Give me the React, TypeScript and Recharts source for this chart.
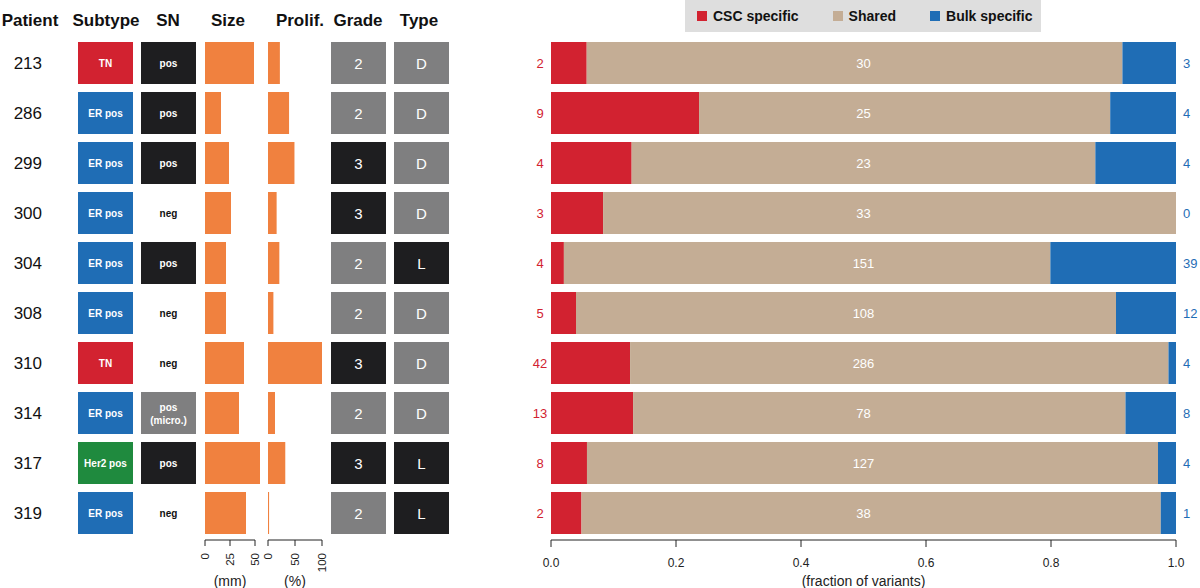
import { BarChart, Bar, XAxis, YAxis, Cell, LabelList } from "recharts";

const patients = ["213", "286", "299", "300", "304", "308", "310", "314", "317", "319"];
const subtypes = ["TN", "ER pos", "ER pos", "ER pos", "ER pos", "ER pos", "TN", "ER pos", "Her2 pos", "ER pos"];
const sentinelNode = ["pos", "pos", "pos", "neg", "pos", "neg", "neg", "pos (micro.)", "pos", "neg"];
const tumourSize = [49, 16, 24, 26, 21, 21, 39, 34, 55, 41]; // mm
const prolif = [22, 39, 49, 16, 21, 10, 100, 13, 32, 2]; // %
const grades = ["2", "2", "3", "3", "2", "2", "3", "2", "3", "2"];
const tumourType = ["D", "D", "D", "D", "L", "D", "D", "D", "L", "L"];

const cscSpecific = [2, 9, 4, 3, 4, 5, 42, 13, 8, 2];
const sharedVariants = [30, 25, 23, 33, 151, 108, 286, 78, 127, 38];
const bulkSpecific = [3, 4, 4, 0, 39, 12, 4, 8, 4, 1];

const fractionTicks = [0, 0.2, 0.4, 0.6, 0.8, 1];
const sizeTicks = [0, 25, 50];
const prolifTicks = [0, 50, 100];

const FONT = "'Liberation Sans', Arial, Helvetica, sans-serif";
const RED = "#d22230";
const TAN = "#c4ad95";
const BLUE = "#1f6db5";
const GREEN = "#1f8a3e";
const ORANGE = "#f0813f";
const BLACK = "#1e1e20";
const GREY = "#7f7f80";

const subtypeColor: Record<string, string> = { TN: RED, "ER pos": BLUE, "Her2 pos": GREEN };
const snColor: Record<string, string> = { pos: BLACK, neg: "none", "pos (micro.)": GREY };
const gradeColor: Record<string, string> = { "2": GREY, "3": BLACK };
const typeColor: Record<string, string> = { D: GREY, L: BLACK };

const rows = patients.map((p, i) => ({
  patient: p,
  cell: 1,
  size: tumourSize[i],
  prolif: prolif[i],
  csc: cscSpecific[i],
  shared: sharedVariants[i],
  bulk: bulkSpecific[i],
}));

const TOP = 38;
const H = 588;
const PLOT_L = 551;
const PLOT_R = 1176;

const rowOf = (patient: string) => patients.indexOf(patient);

const makeBoxLabel =
  (values: string[], colorOf: (v: string) => string, fontSize: number, fontWeight: string) =>
  (props: any) => {
    const vb = props.viewBox ?? props;
    const { x, y, width, height } = vb;
    const v = values[rowOf(String(props.value))];
    if (v === undefined) return null;
    const cut = v.indexOf("(");
    const lines = cut > 0 ? [v.slice(0, cut).trim(), v.slice(cut)] : [v];
    const cx = x + width / 2;
    const lh = fontSize * 1.3;
    const y0 = y + height / 2 - ((lines.length - 1) * lh) / 2;
    return (
      <text x={cx} y={y0} textAnchor="middle" dominantBaseline="central" fontSize={fontSize} fontWeight={fontWeight} fill={colorOf(v)} fontFamily={FONT}>
        {lines.map((l, i) => (
          <tspan key={i} x={cx} dy={i === 0 ? 0 : lh}>
            {l}
          </tspan>
        ))}
      </text>
    );
  };

function BoxColumn({
  left,
  width,
  values,
  colors,
  labelColor,
  fontSize,
  fontWeight,
  withPatients,
}: {
  left: number;
  width: number;
  values: string[];
  colors: Record<string, string>;
  labelColor: (v: string) => string;
  fontSize: number;
  fontWeight: string;
  withPatients?: boolean;
}) {
  const axisW = withPatients ? left : 0;
  return (
    <div style={{ position: "absolute", left: left - axisW, top: 0 }}>
      <BarChart width={width + axisW} height={H} data={rows} layout="vertical" margin={{ top: TOP, right: 0, bottom: H - 538, left: 0 }} barSize={42}>
        <XAxis type="number" domain={[0, 1]} hide />
        <YAxis
          type="category"
          dataKey="patient"
          hide={!withPatients}
          width={axisW}
          axisLine={false}
          tickLine={false}
          tickSize={0}
          tickMargin={36}
          tick={{ fontSize: 17, fill: "#111", fontFamily: FONT }}
        />
        <Bar dataKey="cell" isAnimationActive={false}>
          {values.map((v, i) => (
            <Cell key={i} fill={colors[v]} />
          ))}
          <LabelList dataKey="patient" content={makeBoxLabel(values, labelColor, fontSize, fontWeight)} />
        </Bar>
      </BarChart>
    </div>
  );
}

const RotTick = (props: any) => {
  const { x, y, payload } = props;
  return (
    <text x={x} y={y} transform={`rotate(-90, ${x}, ${y})`} textAnchor="end" dominantBaseline="central" fontSize={11.5} fill="#222" fontFamily={FONT}>
      {payload.value}
    </text>
  );
};

function OrangeColumn({ left, width, dataKey, max, ticks, unit }: { left: number; width: number; dataKey: string; max: number; ticks: number[]; unit: string }) {
  const pad = 12;
  return (
    <div className="overflow-col" style={{ position: "absolute", left: left - pad, top: 0 }}>
      <BarChart width={width + 2 * pad} height={H} data={rows} layout="vertical" margin={{ top: TOP, right: pad, bottom: 18, left: pad }} barSize={42}>
        <XAxis
          type="number"
          domain={[0, max]}
          allowDataOverflow
          ticks={ticks}
          interval={0}
          height={30}
          tickSize={6}
          tickMargin={7}
          stroke="#222"
          tick={<RotTick />}
          label={{ value: unit, position: "bottom", offset: 6, fontSize: 14, fill: "#222", fontFamily: FONT }}
        />
        <YAxis type="category" dataKey="patient" hide padding={{ top: 0, bottom: 2 }} />
        <Bar dataKey={dataKey} fill={ORANGE} isAnimationActive={false} />
      </BarChart>
    </div>
  );
}

const sharedLabel = (props: any) => {
  const vb = props.viewBox ?? props;
  const { y, height } = vb;
  const i = rowOf(String(props.value));
  if (i < 0) return null;
  return (
    <text x={(PLOT_L + PLOT_R) / 2 - 520} y={y + height / 2} textAnchor="middle" dominantBaseline="central" fontSize={13} fill="#fff" fontFamily={FONT}>
      {sharedVariants[i]}
    </text>
  );
};

const headers: [string, number][] = [
  ["Patient", 30],
  ["Subtype", 106],
  ["SN", 168],
  ["Size", 228],
  ["Prolif.", 300],
  ["Grade", 358],
  ["Type", 419],
];

const legendItems: [string, string][] = [
  ["CSC specific", RED],
  ["Shared", TAN],
  ["Bulk specific", BLUE],
];

export default function App() {
  return (
    <div style={{ position: "absolute", left: 0, top: 0, width: 1200, height: 588, background: "#fff", fontFamily: FONT }}>
      <style>{`.overflow-col g[clip-path]{clip-path:none !important}`}</style>
      {headers.map(([t, cx]) => (
        <div key={t} style={{ position: "absolute", left: cx - 50, width: 100, top: 11, lineHeight: "20px", textAlign: "center", fontSize: 17, fontWeight: "bold", color: "#111" }}>
          {t}
        </div>
      ))}

      <BoxColumn left={78} width={55} values={subtypes} colors={subtypeColor} labelColor={() => "#fff"} fontSize={10} fontWeight="bold" withPatients />
      <BoxColumn left={141} width={55} values={sentinelNode} colors={snColor} labelColor={(v) => (v === "neg" ? "#111" : "#fff")} fontSize={10} fontWeight="bold" />
      <OrangeColumn left={205} width={50} dataKey="size" max={50} ticks={sizeTicks} unit="(mm)" />
      <OrangeColumn left={268} width={54} dataKey="prolif" max={100} ticks={prolifTicks} unit="(%)" />
      <BoxColumn left={331} width={55} values={grades} colors={gradeColor} labelColor={() => "#fff"} fontSize={15} fontWeight="normal" />
      <BoxColumn left={394} width={55} values={tumourType} colors={typeColor} labelColor={() => "#fff"} fontSize={15} fontWeight="normal" />

      <div style={{ position: "absolute", left: 685, top: 0, width: 356, height: 32, background: "#dedede", display: "flex", alignItems: "center", paddingLeft: 12, boxSizing: "border-box", gap: 34 }}>
        {legendItems.map(([name, color]) => (
          <div key={name} style={{ display: "flex", alignItems: "center", gap: 6 }}>
            <span style={{ width: 10, height: 10, background: color, display: "inline-block" }} />
            <span style={{ fontSize: 14, fontWeight: "bold", color: "#111" }}>{name}</span>
          </div>
        ))}
      </div>

      <div style={{ position: "absolute", left: 520, top: 0 }}>
        <BarChart width={680} height={H} data={rows} layout="vertical" stackOffset="expand" margin={{ top: TOP, right: 0, bottom: 18, left: 0 }} barSize={42}>
          <XAxis
            type="number"
            domain={[0, 1]}
            ticks={fractionTicks}
            interval={0}
            tickFormatter={(v: number) => v.toFixed(1)}
            height={30}
            tickSize={7}
            tickMargin={11}
            stroke="#222"
            tick={{ fontSize: 12, fill: "#222", fontFamily: FONT }}
            label={{ value: "(fraction of variants)", position: "bottom", offset: 6, fontSize: 14, fill: "#222", fontFamily: FONT }}
          />
          <YAxis
            yAxisId="csc"
            type="category"
            dataKey="patient"
            orientation="left"
            width={PLOT_L - 520}
            padding={{ top: 0, bottom: 2 }}
            axisLine={false}
            tickLine={false}
            tickSize={0}
            tickMargin={11}
            tickFormatter={(p: string) => String(cscSpecific[rowOf(p)])}
            tick={{ fontSize: 13, fill: RED, fontFamily: FONT, textAnchor: "middle" }}
          />
          <YAxis
            yAxisId="bulk"
            type="category"
            dataKey="patient"
            orientation="right"
            width={1200 - PLOT_R}
            padding={{ top: 0, bottom: 2 }}
            axisLine={false}
            tickLine={false}
            tickSize={0}
            tickMargin={7}
            tickFormatter={(p: string) => String(bulkSpecific[rowOf(p)])}
            tick={{ fontSize: 13, fill: BLUE, fontFamily: FONT }}
          />
          <Bar yAxisId="csc" dataKey="csc" stackId="v" fill={RED} isAnimationActive={false} />
          <Bar yAxisId="csc" dataKey="shared" stackId="v" fill={TAN} isAnimationActive={false}>
            <LabelList dataKey="patient" content={sharedLabel} />
          </Bar>
          <Bar yAxisId="csc" dataKey="bulk" stackId="v" fill={BLUE} isAnimationActive={false} />
        </BarChart>
      </div>
    </div>
  );
}
